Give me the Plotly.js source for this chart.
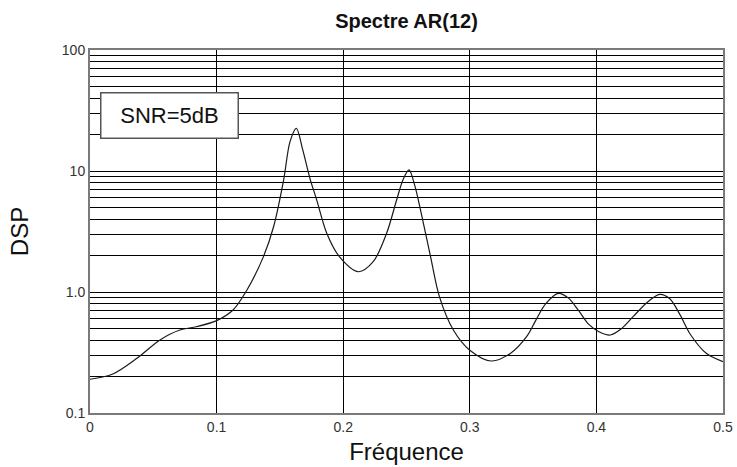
<!DOCTYPE html>
<html>
<head>
<meta charset="utf-8">
<script src="https://cdn.plot.ly/plotly-3.0.1.min.js"></script>
<style>
html,body{margin:0;padding:0;background:#fff;}
#chart{width:737px;height:467px;}
</style>
</head>
<body>
<div id="chart"></div>
<script>
// Data
const freq = [0, 0.018, 0.037, 0.055, 0.071, 0.084, 0.1, 0.113, 0.124, 0.137, 0.145, 0.153, 0.158, 0.163, 0.168, 0.174, 0.179, 0.187, 0.197, 0.212, 0.2237, 0.2343, 0.2422, 0.2475, 0.252, 0.2565, 0.261, 0.269, 0.276, 0.287, 0.300, 0.317, 0.332, 0.345, 0.352, 0.360, 0.370, 0.378, 0.386, 0.394, 0.402, 0.411, 0.420, 0.429, 0.440, 0.450, 0.458, 0.466, 0.474, 0.487, 0.5];
const dsp = [0.19, 0.21, 0.283, 0.40, 0.485, 0.516, 0.58, 0.71, 1.04, 1.96, 3.46, 8.5, 17.5, 22.5, 15, 8.5, 5.8, 3.06, 1.96, 1.47, 1.78, 3.06, 5.76, 8.6, 10.2, 7.6, 4.8, 1.96, 0.915, 0.485, 0.33, 0.269, 0.311, 0.43, 0.58, 0.80, 0.975, 0.89, 0.70, 0.54, 0.47, 0.441, 0.50, 0.625, 0.82, 0.957, 0.88, 0.65, 0.45, 0.31, 0.266];

const xTickVals = [0, 0.1, 0.2, 0.3, 0.4, 0.5];
const xTickText = ['0', '0.1', '0.2', '0.3', '0.4', '0.5'];
const yTickVals = [0.1,0.2,0.3,0.4,0.5,0.6,0.7,0.8,0.9, 1,2,3,4,5,6,7,8,9, 10,20,30,40,50,60,70,80,90, 100];
const yTickText = ['0.1','','','','','','','','', '1.0','','','','','','','','', '10','','','','','','','','', '100'];

const titleText = 'Spectre AR(12)';
const xTitle = 'Fréquence';
const yTitle = 'DSP';
const noteText = 'SNR=5dB';

const FONT = 'Liberation Sans, Arial, Helvetica, sans-serif';

const trace = {
  x: freq, y: dsp, type: 'scatter', mode: 'lines',
  line: {color: '#1a1a1a', width: 1.2, shape: 'spline', smoothing: 0.9},
  hoverinfo: 'skip'
};

const layout = {
  width: 737, height: 467,
  margin: {l: 90, r: 14, t: 50, b: 54},
  paper_bgcolor: '#fff', plot_bgcolor: '#fff',
  showlegend: false,
  font: {family: FONT, color: '#222'},
  title: {
    text: '<b>' + titleText + '</b>',
    font: {family: FONT, size: 20, color: '#111'},
    x: 0.5, xref: 'paper', xanchor: 'center',
    y: 1 - 21/467, yref: 'container', yanchor: 'middle'
  },
  xaxis: {
    range: [0, 0.5], tickmode: 'array', tickvals: xTickVals, ticktext: xTickText,
    showgrid: true, gridcolor: '#000', gridwidth: 1, zeroline: false,
    showline: true, linecolor: '#7a7a7a', linewidth: 2, mirror: true,
    ticks: '', tickfont: {family: FONT, size: 14, color: '#333'},
    title: {text: xTitle, font: {family: FONT, size: 24, color: '#111'}, standoff: 9},
    automargin: false, fixedrange: true
  },
  yaxis: {
    type: 'log', range: [-1, 2], tickmode: 'array', tickvals: yTickVals, ticktext: yTickText,
    showgrid: true, gridcolor: '#000', gridwidth: 1, zeroline: false,
    showline: true, linecolor: '#7a7a7a', linewidth: 2, mirror: true,
    ticks: '', tickfont: {family: FONT, size: 14, color: '#333'},
    title: {text: yTitle, font: {family: FONT, size: 24, color: '#111'}, standoff: 26},
    automargin: false, fixedrange: true
  },
  annotations: [{
    text: noteText, xref: 'paper', yref: 'paper',
    x: 0.016, xanchor: 'left', y: 0.884, yanchor: 'top',
    showarrow: false, bgcolor: '#fff', bordercolor: '#555', borderwidth: 1.5, borderpad: 0,
    width: 136, height: 44, align: 'center', valign: 'middle',
    font: {family: FONT, size: 22, color: '#111'}
  }]
};

Plotly.newPlot('chart', [trace], layout, {displayModeBar: false, staticPlot: true});
</script>
</body>
</html>
